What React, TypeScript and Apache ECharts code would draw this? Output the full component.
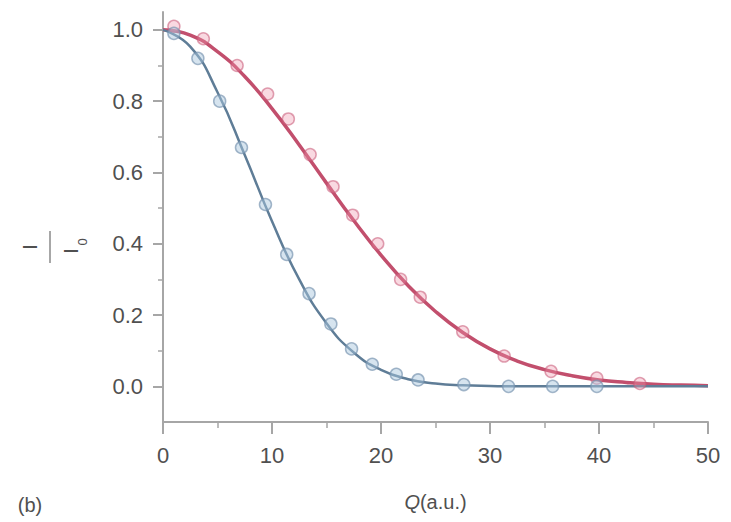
import React, { useEffect, useRef } from "react";
import * as echarts from "echarts";

// Fit curves
const fitX = [0, 2.5, 5, 7.5, 10, 12.5, 15, 17.5, 20, 22.5, 25, 27.5, 30, 32.5, 35, 37.5, 40, 42.5, 45, 47.5, 50];
const redFit = [1.0, 0.985, 0.939, 0.869, 0.779, 0.677, 0.57, 0.465, 0.368, 0.282, 0.21, 0.151, 0.105, 0.071, 0.047, 0.03, 0.018, 0.011, 0.006, 0.0035, 0.002];
const blueFit = [1.0, 0.953, 0.825, 0.649, 0.463, 0.3, 0.177, 0.095, 0.046, 0.02, 0.008, 0.003, 0.001, 0, 0, 0, 0, 0, 0, 0, 0];

// Measured points
const redPtsX = [1.0, 3.7, 6.8, 9.6, 11.5, 13.5, 15.6, 17.4, 19.7, 21.8, 23.6, 27.5, 31.3, 35.6, 39.8, 43.75];
const redPtsY = [1.01, 0.975, 0.9, 0.82, 0.75, 0.65, 0.56, 0.48, 0.4, 0.3, 0.25, 0.153, 0.085, 0.042, 0.023, 0.008];
const bluePtsX = [1.0, 3.2, 5.2, 7.2, 9.4, 11.35, 13.4, 15.4, 17.3, 19.2, 21.4, 23.4, 27.6, 31.7, 35.75, 39.8];
const bluePtsY = [0.99, 0.92, 0.8, 0.67, 0.51, 0.37, 0.26, 0.175, 0.105, 0.062, 0.034, 0.018, 0.005, 0.0, 0.0, 0.0];

const yMajor = [0, 0.2, 0.4, 0.6, 0.8, 1.0];
const yMinor = [0.1, 0.3, 0.5, 0.7, 0.9];

const zip = (xs: number[], ys: number[]) => xs.map((x, i) => [x, ys[i]]);

const FONT = "Liberation Sans, Arial, sans-serif";
const TXT = "#505050";
const AX = "#a6a6a6";

export default function App() {
  const ref = useRef<HTMLDivElement>(null);
  useEffect(() => {
    if (!ref.current) return;
    const chart = echarts.init(ref.current, undefined, { renderer: "svg" });
    chart.setOption({
      animation: false,
      backgroundColor: "#ffffff",
      grid: { left: 163, right: 23, top: 12, bottom: 100, containLabel: false },
      xAxis: {
        type: "value",
        min: 0,
        max: 50,
        interval: 10,
        name: "{q|Q}(a.u.)",
        nameLocation: "middle",
        nameGap: 70,
        nameTextStyle: {
          color: TXT,
          fontFamily: FONT,
          fontSize: 20,
          rich: {
            q: { fontStyle: "italic", fontSize: 20, color: TXT, fontFamily: FONT },
          },
        },
        axisLine: { show: true, onZero: false, lineStyle: { color: AX, width: 2 } },
        axisTick: { show: true, length: 12, lineStyle: { color: AX, width: 2 } },
        minorTick: { show: true, splitNumber: 2, length: 6, lineStyle: { color: AX, width: 1.5 } },
        splitLine: { show: false },
        axisLabel: { color: TXT, fontFamily: FONT, fontSize: 22, margin: 22 },
      },
      yAxis: [
        {
          type: "value",
          min: -0.1,
          max: 1.05,
          position: "left",
          axisLine: { show: true, onZero: false, lineStyle: { color: AX, width: 2 } },
          axisTick: { show: true, length: 10, customValues: yMajor, lineStyle: { color: AX, width: 2 } },
          splitLine: { show: false },
          axisLabel: {
            color: TXT,
            fontFamily: FONT,
            fontSize: 22,
            margin: 20,
            customValues: yMajor,
            formatter: (v: number) => v.toFixed(1),
          },
        },
        {
          type: "value",
          min: -0.1,
          max: 1.05,
          position: "left",
          offset: 0,
          axisLine: { show: false },
          axisTick: { show: true, length: 5, customValues: yMinor, lineStyle: { color: AX, width: 1.5 } },
          axisLabel: { show: false },
          splitLine: { show: false },
        },
      ],
      series: [
        {
          name: "red fit",
          type: "line",
          smooth: true,
          symbol: "none",
          data: zip(fitX, redFit),
          lineStyle: { color: "#c24f6d", width: 3.5 },
          z: 2,
        },
        {
          name: "blue fit",
          type: "line",
          smooth: true,
          symbol: "none",
          data: zip(fitX, blueFit),
          lineStyle: { color: "#5f7d97", width: 2.5 },
          z: 2,
        },
        {
          name: "red data",
          type: "scatter",
          symbol: "circle",
          symbolSize: 12,
          data: zip(redPtsX, redPtsY),
          itemStyle: { color: "rgba(238,150,172,0.45)", borderColor: "rgba(200,90,120,0.7)", borderWidth: 1.5 },
          z: 3,
        },
        {
          name: "blue data",
          type: "scatter",
          symbol: "circle",
          symbolSize: 12,
          data: zip(bluePtsX, bluePtsY),
          itemStyle: { color: "rgba(170,198,222,0.6)", borderColor: "rgba(120,148,175,0.85)", borderWidth: 1.5 },
          z: 3,
        },
      ],
      graphic: [
        {
          type: "group",
          x: 50,
          y: 247,
          rotation: Math.PI / 2,
          children: [
            {
              type: "text",
              x: 0,
              y: -20,
              style: { text: "I", fill: TXT, font: `20px ${FONT}`, align: "center", verticalAlign: "middle" },
            },
            {
              type: "line",
              shape: { x1: -16, y1: 0, x2: 16, y2: 0 },
              style: { stroke: "#8a8a8a", lineWidth: 1.5 },
            },
            {
              type: "text",
              x: -4,
              y: 21,
              style: { text: "I", fill: TXT, font: `20px ${FONT}`, align: "center", verticalAlign: "middle" },
            },
            {
              type: "text",
              x: 5,
              y: 32,
              style: { text: "0", fill: TXT, font: `13px ${FONT}`, align: "center", verticalAlign: "middle" },
            },
          ],
        },
        {
          type: "text",
          x: 30,
          y: 505,
          style: { text: "(b)", fill: TXT, font: `20px ${FONT}`, align: "center", verticalAlign: "middle" },
        },
      ],
    });
    return () => chart.dispose();
  }, []);
  return (
    <div
      ref={ref}
      style={{ position: "fixed", left: 0, top: 0, width: 731, height: 522 }}
    />
  );
}
